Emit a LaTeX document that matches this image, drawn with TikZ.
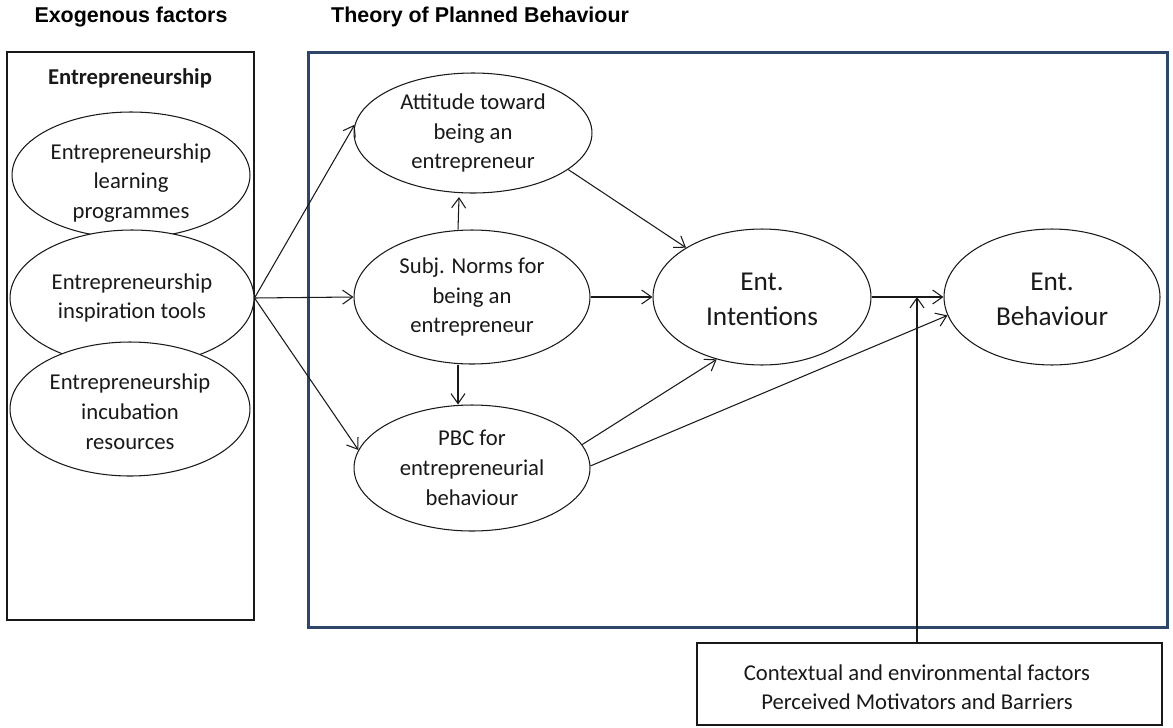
\documentclass[tikz,border=0pt]{standalone}
\usepackage{fontspec}
\setmainfont{Carlito}
\newfontfamily\arialfont{Liberation Sans}
\usetikzlibrary{arrows.meta,shapes.geometric}

\definecolor{frameblue}{RGB}{46,70,106}
\definecolor{ink}{RGB}{25,25,25}

\begin{document}
\begin{tikzpicture}[x=0.02cm,y=-0.02cm,
  oval/.style={draw=ink, line width=0.6pt, fill=white, ellipse, inner sep=0pt},
  txt/.style={font=\fontsize{12.9}{17}\selectfont, align=center, text=ink},
  bigtxt/.style={font=\fontsize{15.5}{19.8}\selectfont, align=center, text=ink},
  conn/.style={draw=ink, line width=0.6pt, -{Straight Barb[length=2mm,width=2.8mm]}},
  heading/.style={font=\arialfont\bfseries\fontsize{12.2}{14}\selectfont, text=black},
  box/.style={draw=ink, line width=0.7pt, rectangle, inner sep=0pt}
]
\useasboundingbox (0,0) rectangle (1173,727);

% headings
\node[heading] (exotitle) at (131,17) {Exogenous factors};
\node[heading, anchor=west] (tpbtitle) at (325,17) {Theory of Planned Behaviour};

% exogenous factors panel
\node[box, minimum width=4.94cm, minimum height=11.36cm] (exobox) at (130.5,336) {};
\node[font=\bfseries\fontsize{12.9}{15}\selectfont, text=ink] (exohead) at (130,78) {Entrepreneurship};

\node[oval, minimum width=4.76cm, minimum height=2.52cm,
      label={[txt, yshift=-0.16cm]center:{Entrepreneurship\\learning\\programmes}}] (e1) at (131,175) {};
\node[oval, minimum width=4.88cm, minimum height=2.72cm,
      label={[txt]center:{Entrepreneurship\\inspiration tools}}] (e2) at (132,298) {};
\node[oval, minimum width=4.80cm, minimum height=2.68cm,
      label={[txt, yshift=-0.06cm]center:{Entrepreneurship\\incubation\\resources}}] (e3) at (130,409) {};

% theory of planned behaviour frame
\node[draw=frameblue, line width=1.7pt, rectangle, inner sep=0pt,
      minimum width=17.2cm, minimum height=11.52cm] (tpb) at (738,340) {};

\node[oval, minimum width=4.76cm, minimum height=2.40cm,
      label={[txt]center:{Attitude toward\\being an\\entrepreneur}}] (att) at (473,133) {};
\node[oval, minimum width=4.72cm, minimum height=2.68cm,
      label={[txt]center:{Subj. Norms for\\being an\\entrepreneur}}] (subj) at (472,297) {};
\node[oval, minimum width=4.72cm, minimum height=2.52cm,
      label={[txt]center:{PBC for\\entrepreneurial\\behaviour}}] (pbc) at (472,468) {};
\node[oval, minimum width=4.36cm, minimum height=2.72cm,
      label={[bigtxt, yshift=-0.05cm]center:{Ent.\\Intentions}}] (int) at (762,297) {};
\node[oval, minimum width=4.32cm, minimum height=2.72cm,
      label={[bigtxt, yshift=-0.05cm]center:{Ent.\\Behaviour}}] (beh) at (1052,297) {};

% contextual factors box
\node[box, minimum width=9.3cm, minimum height=1.64cm,
      label={[txt, font=\fontsize{12.9}{16.4}\selectfont, xshift=-0.25cm, yshift=-0.06cm]center:{Contextual and environmental factors\\Perceived Motivators and Barriers}}] (ctx) at (929.5,684) {};
\coordinate (j) at (917,297);

% connectors
\draw[conn] (e2.east) -- (att.176);
\draw[conn] (e2.east) -- (subj.west);
\draw[conn] (e2.east) -- (pbc.171);
\draw[conn] ([xshift=-0.28cm]subj.north) -- ([xshift=-0.28cm,yshift=-0.07cm]att.south);
\draw[conn] ([xshift=-0.28cm]subj.south) -- ([xshift=-0.28cm]pbc.north);
\draw[conn] (att.-21) -- (int.147);
\draw[conn] (subj.east) -- (int.west);
\draw[conn] (pbc.12) -- (int.234);
\draw[conn] (pbc.1) -- (beh.190);
\draw[conn] (int.east) -- (beh.west);
\draw[conn] (ctx.north -| j) -- (j);
\end{tikzpicture}
\end{document}
